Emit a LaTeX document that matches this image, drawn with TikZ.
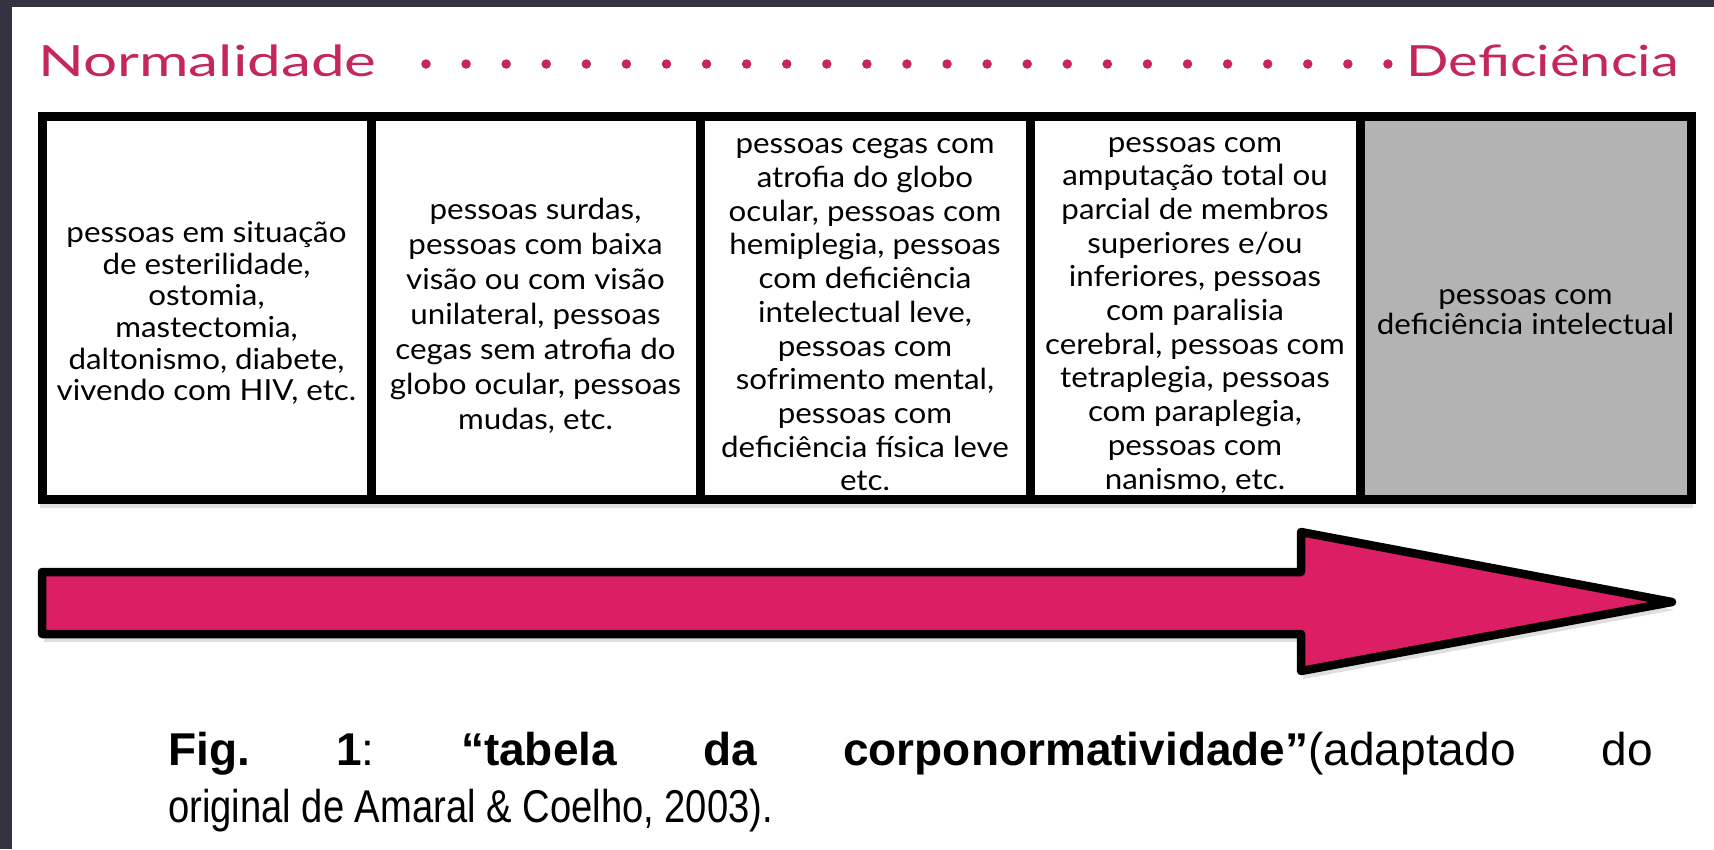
\documentclass[tikz,border=0pt]{standalone}
\usepackage{fontspec}
\setmainfont{Liberation Sans}
\newfontfamily\gill[FakeStretch=1.08]{Lato}
\newfontfamily\gilltitle[FakeStretch=1.3]{Lato}
\newfontfamily\gilltitlewide[FakeStretch=1.4]{Lato}
\newfontfamily\capnarrow[FakeStretch=0.83]{Liberation Sans}
\usetikzlibrary{shadows}
\definecolor{framedark}{RGB}{53,50,66}
\definecolor{titlepink}{RGB}{196,38,94}
\definecolor{arrowpink}{RGB}{220,30,100}
\definecolor{cellgray}{RGB}{179,179,179}
\begin{document}
\begin{tikzpicture}[x=1pt,y=-1pt,
  cellbox/.style={draw=black, line width=9pt, minimum height=382.5pt, inner sep=0pt},
  celltext/.style={inner sep=0pt, align=center},
  titletext/.style={font=\gilltitle\fontsize{43}{50}\selectfont, text=titlepink, inner sep=0pt},
  dotmark/.style={circle, fill=titlepink, minimum size=9.5pt, inner sep=0pt},
  captiontext/.style={inner sep=0pt, anchor=base west}
]
\useasboundingbox (0,0) rectangle (1714,849);
\fill[white] (0,0) rectangle (1714,849);
\fill[framedark] (0,0) rectangle (1714,7);
\fill[framedark] (0,0) rectangle (12,849);

% title line
\node[titletext, font=\gilltitlewide\fontsize{43}{50}\selectfont, anchor=base west] (norm) at (38,76) {Normalidade};
\node[titletext, anchor=base east] (def) at (1679,76) {Deficiência};
\foreach \i in {0,...,24}
  \node[dotmark] (d\i) at ({426+\i*40.08},64) {};

% faint table shadow
\fill[black, opacity=0.12] (40,503.5) rectangle (1693,508);

% table cells
\node[cellbox, minimum width=329pt] (c1) at (206.5,307.75) {};
\node[cellbox, minimum width=329pt] (c2) at (535.5,307.75) {};
\node[cellbox, minimum width=330pt] (c3) at (865,307.75) {};
\node[cellbox, minimum width=330pt] (c4) at (1195,307.75) {};
\node[cellbox, minimum width=331pt, fill=cellgray] (c5) at (1525.5,307.75) {};

% cell texts
\node[celltext, font=\gill\fontsize{29}{31.7}\selectfont] (t1) at (206.5,313)
  {pessoas em situação\\de esterilidade,\\ostomia,\\mastectomia,\\daltonismo, diabete,\\vivendo com HIV, etc.};
\node[celltext, font=\gill\fontsize{29}{35}\selectfont] (t2) at (535.5,316)
  {pessoas surdas,\\pessoas com baixa\\visão ou com visão\\unilateral, pessoas\\cegas sem atrofia do\\globo ocular, pessoas\\mudas, etc.};
\node[celltext, font=\gill\fontsize{29}{33.7}\selectfont] (t3) at (865,315)
  {pessoas cegas com\\atrofia do globo\\ocular, pessoas com\\hemiplegia, pessoas\\com deficiência\\intelectual leve,\\pessoas com\\sofrimento mental,\\pessoas com\\deficiência física leve\\etc.};
\node[celltext, font=\gill\fontsize{29}{33.7}\selectfont] (t4) at (1195,315)
  {pessoas com\\amputação total ou\\parcial de membros\\superiores e/ou\\inferiores, pessoas\\com paralisia\\cerebral, pessoas com\\tetraplegia, pessoas\\com paraplegia,\\pessoas com\\nanismo, etc.};
\node[celltext, font=\gill\fontsize{29}{29.5}\selectfont] (t5) at (1525.5,312)
  {pessoas com\\deficiência intelectual};

% arrow
\draw[line width=8.5pt, line join=round, fill=arrowpink,
  drop shadow={shadow xshift=2pt, shadow yshift=-8pt, opacity=0.25}]
  (42,572) -- (1301,572) -- (1301,532) -- (1672,602) -- (1301,671) -- (1301,634) -- (42,634) -- cycle;

% caption
\node[captiontext, font=\fontsize{46}{55}\selectfont] (cap1) at (168,765)
  {\frenchspacing\makebox[1485pt][s]{\textbf{Fig. 1}: \textbf{“tabela da corponormatividade”}(adaptado do}};
\node[captiontext, font=\capnarrow\fontsize{46}{55}\selectfont] (cap2) at (168,822)
  {original de Amaral \& Coelho, 2003).};
\end{tikzpicture}
\end{document}
